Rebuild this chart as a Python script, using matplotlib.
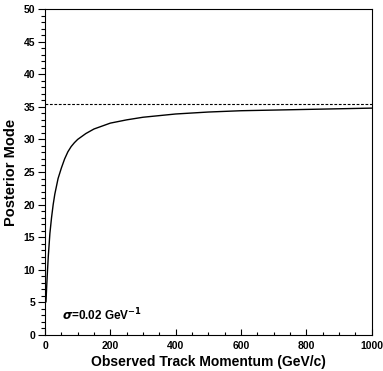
import matplotlib
matplotlib.use("Agg")
import matplotlib.pyplot as plt
from matplotlib.ticker import MultipleLocator

plt.rcParams['font.family'] = ['Liberation Sans', 'DejaVu Sans']
plt.rcParams['font.weight'] = 'bold'

# values
momentum = [3, 5, 7, 10, 15, 20, 25, 30, 40, 50, 60, 70, 80, 90, 100, 125, 150,
            200, 250, 300, 400, 500, 600, 700, 800, 900, 1000]
mode = [5.1, 7.3, 9.3, 12.0, 15.6, 18.0, 20.0, 21.6, 24.0, 25.6, 27.0, 28.1,
        28.9, 29.5, 30.0, 30.9, 31.6, 32.5, 33.0, 33.4, 33.9, 34.2, 34.4, 34.5,
        34.6, 34.7, 34.8]
asymptote = 35.4

fig = plt.figure(figsize=(3.83, 3.71), dpi=100)
ax = fig.add_axes([0.1175, 0.097, 0.853, 0.8787])

ax.plot(momentum, mode, color='black', lw=1.0)
ax.axhline(asymptote, color='black', lw=0.8, ls=(0, (2.5, 1.5)))

ax.set_xlim(0, 1000)
ax.set_ylim(0, 50)
ax.xaxis.set_major_locator(MultipleLocator(200))
ax.xaxis.set_minor_locator(MultipleLocator(50))
ax.yaxis.set_major_locator(MultipleLocator(5))
ax.yaxis.set_minor_locator(MultipleLocator(1))
ax.tick_params(axis='x', which='both', direction='in', labelsize=7.5, pad=4)
ax.tick_params(axis='x', which='major', length=4, width=0.8)
ax.tick_params(axis='x', which='minor', length=2.5, width=0.8)
ax.tick_params(axis='y', which='both', direction='out', labelsize=7.5, pad=2)
ax.tick_params(axis='y', which='major', length=5, width=0.8)
ax.tick_params(axis='y', which='minor', length=3, width=0.8)
for s in ax.spines.values():
    s.set_linewidth(0.8)

ax.set_xlabel('Observed Track Momentum (GeV/c)', fontsize=10, fontweight='bold', labelpad=3)
ax.set_ylabel('Posterior Mode', fontsize=10.5, fontweight='bold', labelpad=4)
ax.text(52, 2.3, r'$\sigma$=0.02 GeV$^{\mathbf{-1}}$', fontsize=8.5, fontweight='bold')

fig.savefig('out.png', dpi=100)
